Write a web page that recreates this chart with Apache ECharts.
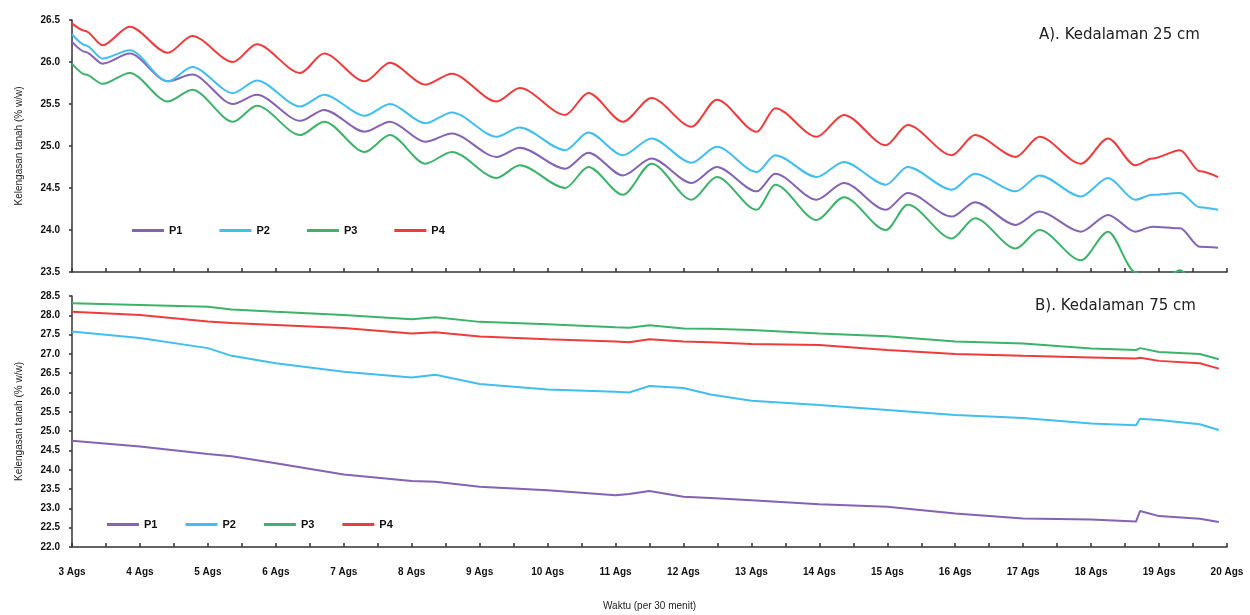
<!DOCTYPE html>
<html>
<head>
<meta charset="utf-8">
<script src="https://cdn.jsdelivr.net/npm/echarts@6/dist/echarts.min.js"></script>
<style>
html,body{margin:0;padding:0;background:#fff;}
#chart{width:1250px;height:615px;}
</style>
</head>
<body>
<div id="chart"></div>
<script>
// ---- Data (day of August) ----
const seriesNames = ['P1', 'P2', 'P3', 'P4'];
const xTickLabelSuffix = ' Ags';

// Panel A: depth 25 cm
const topTimes = [3.0, 3.2, 3.45, 3.85, 4.41, 4.77, 5.37, 5.72, 6.36, 6.71, 7.31, 7.68, 8.2, 8.59, 9.25, 9.59, 10.26, 10.6, 11.11, 11.53, 12.12, 12.49, 13.08, 13.35, 13.96, 14.36, 14.98, 15.3, 15.95, 16.29, 16.89, 17.24, 17.85, 18.25, 18.65, 18.9, 19.31, 19.6, 19.87];
const topP1 = [26.24, 26.12, 25.98, 26.10, 25.77, 25.85, 25.50, 25.61, 25.30, 25.43, 25.17, 25.29, 25.05, 25.15, 24.87, 24.98, 24.73, 24.92, 24.65, 24.85, 24.56, 24.75, 24.46, 24.67, 24.36, 24.56, 24.24, 24.44, 24.16, 24.33, 24.06, 24.22, 23.98, 24.18, 23.98, 24.04, 24.02, 23.80, 23.79];
const topP2 = [26.33, 26.20, 26.04, 26.14, 25.77, 25.94, 25.63, 25.78, 25.47, 25.61, 25.36, 25.50, 25.27, 25.40, 25.11, 25.22, 24.95, 25.16, 24.89, 25.09, 24.80, 24.99, 24.69, 24.89, 24.63, 24.81, 24.54, 24.75, 24.48, 24.67, 24.46, 24.65, 24.40, 24.62, 24.36, 24.42, 24.44, 24.27, 24.24];
const topP3 = [25.98, 25.85, 25.74, 25.87, 25.53, 25.67, 25.29, 25.48, 25.13, 25.29, 24.93, 25.13, 24.79, 24.93, 24.62, 24.77, 24.50, 24.75, 24.42, 24.79, 24.36, 24.63, 24.24, 24.54, 24.12, 24.39, 24.00, 24.30, 23.90, 24.14, 23.78, 24.00, 23.64, 23.98, 23.50, 23.30, 23.52, 23.30, 23.25];
const topP4 = [26.46, 26.37, 26.20, 26.42, 26.11, 26.31, 26.00, 26.21, 25.87, 26.10, 25.77, 25.99, 25.73, 25.86, 25.53, 25.69, 25.37, 25.63, 25.29, 25.57, 25.23, 25.55, 25.17, 25.45, 25.11, 25.37, 25.01, 25.25, 24.89, 25.13, 24.87, 25.11, 24.79, 25.09, 24.77, 24.85, 24.95, 24.70, 24.63];

// Panel B: depth 75 cm
const botTimes = [3, 4, 5, 5.35, 6, 7, 8, 8.35, 9, 10, 11, 11.2, 11.5, 12, 12.4, 13, 14, 15, 16, 17, 18, 18.66, 18.72, 19, 19.6, 19.88];
const botP1 = [24.75, 24.60, 24.41, 24.35, 24.17, 23.88, 23.71, 23.69, 23.56, 23.47, 23.34, 23.37, 23.45, 23.30, 23.27, 23.21, 23.11, 23.04, 22.87, 22.74, 22.71, 22.66, 22.93, 22.80, 22.73, 22.65];
const botP2 = [27.58, 27.41, 27.15, 26.95, 26.76, 26.54, 26.39, 26.46, 26.22, 26.08, 26.02, 26.00, 26.17, 26.12, 25.95, 25.79, 25.68, 25.55, 25.42, 25.34, 25.20, 25.15, 25.32, 25.29, 25.18, 25.03];
const botP3 = [28.31, 28.27, 28.22, 28.15, 28.09, 28.01, 27.90, 27.95, 27.83, 27.77, 27.69, 27.68, 27.74, 27.66, 27.65, 27.62, 27.53, 27.46, 27.32, 27.27, 27.14, 27.10, 27.15, 27.05, 27.00, 26.86];
const botP4 = [28.09, 28.01, 27.84, 27.80, 27.75, 27.67, 27.53, 27.56, 27.45, 27.38, 27.32, 27.30, 27.38, 27.32, 27.30, 27.26, 27.23, 27.10, 27.00, 26.95, 26.91, 26.88, 26.90, 26.82, 26.76, 26.62];

const colors = ['#8462B4', '#41BEEF', '#3DB36A', '#EF3B3B'];

// ---- Chart ----
const chart = echarts.init(document.getElementById('chart'), null, {renderer: 'canvas'});
const FONT = 'Liberation Sans';
const axisColor = '#333';

function pairs(times, vals) { return times.map((t, i) => [t, vals[i]]); }

const topVals = [topP1, topP2, topP3, topP4];
const botVals = [botP1, botP2, botP3, botP4];

const series = [];
seriesNames.forEach((n, k) => {
  series.push({
    name: n, type: 'line', xAxisIndex: 0, yAxisIndex: 0,
    data: pairs(topTimes, topVals[k]), showSymbol: false, symbol: 'none',
    smooth: 0.3, smoothMonotone: 'x',
    clip: true, lineStyle: {width: 2, color: colors[k]}, itemStyle: {color: colors[k]}
  });
});
seriesNames.forEach((n, k) => {
  series.push({
    name: n, type: 'line', xAxisIndex: 1, yAxisIndex: 1,
    data: pairs(botTimes, botVals[k]), showSymbol: false, symbol: 'none',
    clip: true, lineStyle: {width: 2, color: colors[k]}, itemStyle: {color: colors[k]}
  });
});

const xBase = {
  type: 'value', min: 3, max: 20, interval: 0.5,
  axisLine: {show: true, lineStyle: {color: axisColor, width: 1.5}},
  axisTick: {show: true, inside: true, length: 4, lineStyle: {color: axisColor, width: 1.5}},
  splitLine: {show: false}
};
const yBase = {
  type: 'value', interval: 0.5,
  axisLine: {show: true, lineStyle: {color: axisColor, width: 1.5}},
  axisTick: {show: true, inside: false, length: 3, lineStyle: {color: axisColor, width: 1.5}},
  splitLine: {show: false},
  axisLabel: {color: '#111', fontFamily: FONT, fontWeight: 'bold', fontSize: 10, margin: 12,
    formatter: v => v.toFixed(1)},
  name: 'Kelengasan tanah (% w/w)', nameLocation: 'middle', nameGap: 48,
  nameTextStyle: {color: '#222', fontFamily: FONT, fontSize: 10}
};

const legendBase = {
  data: seriesNames, icon: 'rect', itemWidth: 32, itemHeight: 3,
  textStyle: {color: '#111', fontFamily: FONT, fontWeight: 'bold', fontSize: 11}
};

chart.setOption({
  animation: false,
  backgroundColor: '#fff',
  color: colors,
  title: [
    {text: 'A). Kedalaman 25 cm', left: 1034, top: 23,
      textStyle: {fontFamily: 'DejaVu Sans', fontWeight: 'normal', fontSize: 15, color: '#222'}},
    {text: 'B). Kedalaman 75 cm', left: 1030, top: 294,
      textStyle: {fontFamily: 'DejaVu Sans', fontWeight: 'normal', fontSize: 15, color: '#222'}}
  ],
  legend: [
    Object.assign({}, legendBase, {left: 127, top: 220, itemGap: 37}),
    Object.assign({}, legendBase, {left: 102, top: 514, itemGap: 28})
  ],
  grid: [
    {left: 72, right: 23, top: 20, height: 252},
    {left: 72, right: 23, top: 296, height: 251}
  ],
  xAxis: [
    Object.assign({}, xBase, {gridIndex: 0, axisLabel: {show: false}}),
    Object.assign({}, xBase, {gridIndex: 1,
      axisLabel: {show: true, color: '#111', fontFamily: FONT, fontWeight: 'bold', fontSize: 10, margin: 20,
        formatter: v => Number.isInteger(v) ? v + xTickLabelSuffix : ''},
      name: 'Waktu (per 30 menit)', nameLocation: 'middle', nameGap: 54,
      nameTextStyle: {color: '#222', fontFamily: FONT, fontSize: 10}})
  ],
  yAxis: [
    Object.assign({}, yBase, {gridIndex: 0, min: 23.5, max: 26.5}),
    Object.assign({}, yBase, {gridIndex: 1, min: 22, max: 28.5})
  ],
  series: series
});
</script>
</body>
</html>
